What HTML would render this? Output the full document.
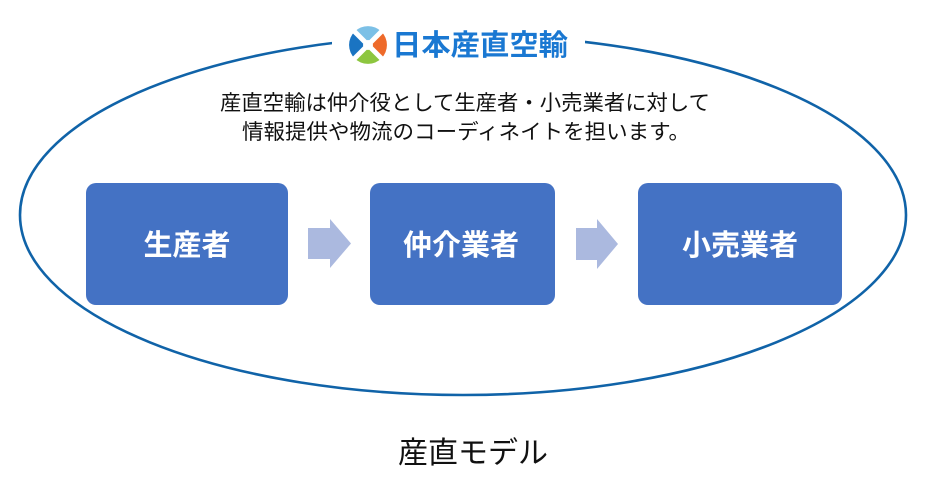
<!DOCTYPE html>
<html>
<head>
<meta charset="utf-8">
<style>
  html,body{margin:0;padding:0;background:#fff;}
  body{width:930px;height:491px;overflow:hidden;position:relative;}
  svg{position:absolute;left:0;top:0;}
  text{font-family:"Liberation Sans","Noto Sans CJK JP",sans-serif;}
</style>
</head>
<body>
<svg width="930" height="491" viewBox="0 0 930 491" xmlns="http://www.w3.org/2000/svg">
  <!-- big ellipse -->
  <ellipse cx="463" cy="215" rx="443" ry="180" fill="none" stroke="#1063a8" stroke-width="2.6"/>
  <!-- white patch behind logo -->
  <rect x="332" y="22" width="253" height="44" fill="#fff"/>

  <!-- logo icon -->
  <g transform="translate(368,45)">
    <path d="M0 0 L-13.4 -13.4 A19 19 0 0 1 13.4 -13.4 Z" fill="#7cc0e6"/>
    <path d="M0 0 L13.4 -13.4 A19 19 0 0 1 13.4 13.4 Z" fill="#ee6a2a"/>
    <path d="M0 0 L13.4 13.4 A19 19 0 0 1 -13.4 13.4 Z" fill="#8dc63f"/>
    <path d="M0 0 L-13.4 13.4 A19 19 0 0 1 -13.4 -13.4 Z" fill="#1a74c2"/>
    <line x1="-20" y1="-20" x2="20" y2="20" stroke="#fff" stroke-width="5"/>
    <line x1="20" y1="-20" x2="-20" y2="20" stroke="#fff" stroke-width="5"/>
    <circle cx="0" cy="0" r="5" fill="#fff"/>
  </g>
  <text x="392" y="55" font-size="29" font-weight="bold" fill="#1a78d2" textLength="176" lengthAdjust="spacingAndGlyphs">日本産直空輸</text>

  <!-- description -->
  <text x="220" y="110" font-size="21" fill="#111" textLength="490" lengthAdjust="spacingAndGlyphs">産直空輸は仲介役として生産者・小売業者に対して</text>
  <text x="242" y="139" font-size="21" fill="#111" textLength="448" lengthAdjust="spacingAndGlyphs">情報提供や物流のコーディネイトを担います。</text>

  <!-- boxes -->
  <rect x="86" y="183" width="202" height="122" rx="10" ry="10" fill="#4472c4"/>
  <rect x="370" y="183" width="185" height="122" rx="10" ry="10" fill="#4472c4"/>
  <rect x="638" y="183" width="204" height="122" rx="10" ry="10" fill="#4472c4"/>

  <text x="187" y="255" font-size="29" font-weight="bold" fill="#fff" text-anchor="middle">生産者</text>
  <text x="461" y="255" font-size="29" font-weight="bold" fill="#fff" text-anchor="middle">仲介業者</text>
  <text x="740" y="255" font-size="29" font-weight="bold" fill="#fff" text-anchor="middle">小売業者</text>

  <!-- arrows -->
  <polygon points="308,228 330,228 330,219 351,243.5 330,268 330,259 308,259" fill="#abb9df"/>
  <polygon points="576,228 597,228 597,219 618,244 597,269 597,260 576,260" fill="#abb9df"/>

  <!-- caption -->
  <text x="473" y="463" font-size="30" fill="#111" text-anchor="middle">産直モデル</text>
</svg>
</body>
</html>
